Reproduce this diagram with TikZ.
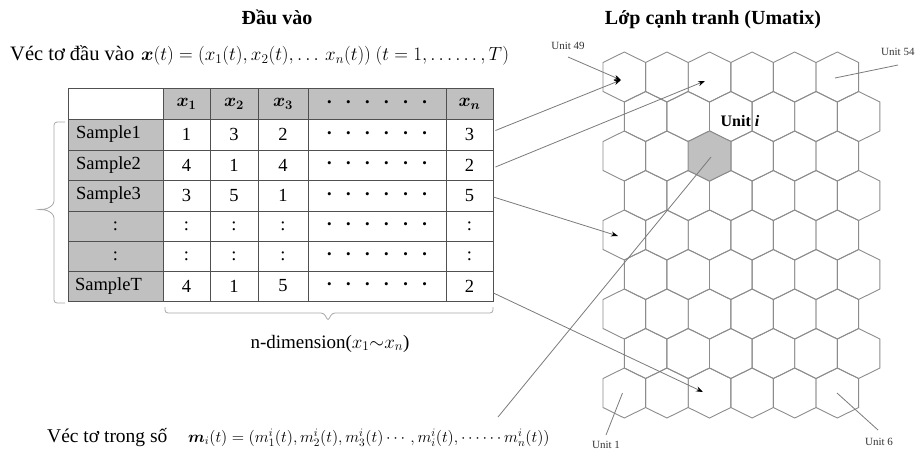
\RequirePackage{fix-cm}
\documentclass[tikz,border=0pt]{standalone}
\usepackage{amsmath}
\usepackage{bm}
\usepackage{fontspec}
\setmainfont{Liberation Serif}
\usetikzlibrary{arrows.meta,calc}
\definecolor{tbl}{HTML}{505050}
\definecolor{cellgray}{HTML}{C0C0C0}
\definecolor{hexc}{HTML}{8C8C8C}
\definecolor{connc}{HTML}{7A7A7A}
\definecolor{brc}{HTML}{A8A8A8}
\newcommand\myfs[1]{\fontsize{#1}{#1}\selectfont}
\newcommand\sixdots{{\myfs{13}\textbullet\hspace{14.5pt}\textbullet\hspace{14.5pt}\textbullet\hspace{14.5pt}\textbullet\hspace{14.5pt}\textbullet\hspace{14.5pt}\textbullet}}
\newcommand\hdrx[1]{$\bm{x}_{\bm{#1}}$}
\begin{document}
\begin{tikzpicture}[x=1pt,y=-1pt,
  cell/.style={draw=tbl, line width=0.9pt, inner sep=0pt, font=\myfs{18.5}},
  hexline/.style={draw=hexc, line width=0.9pt},
  conn/.style={draw=connc, line width=0.8pt},
  arr/.style={conn, -{Stealth[length=7pt,width=5pt,color=black]}},
  lbl/.style={font=\myfs{11}, text=black!80, inner sep=1pt},
  bracestyle/.style={draw=brc, line width=0.8pt, rounded corners=3pt},
  txt/.style={inner sep=0pt}
]
\useasboundingbox (0,0) rectangle (917,451);

% titles
\node[txt, anchor=base, font=\bfseries\myfs{20}] (title1) at (277,24) {Đầu vào};
\node[txt, anchor=base, font=\bfseries\myfs{20}] (title2) at (713,24) {Lớp cạnh tranh (Umatix)};

% input vector
\node[txt, anchor=base west, font=\myfs{20.5}] (vin) at (10,60.5) {Véc tơ đầu vào};
\node[txt, anchor=base west, font=\myfs{19}] (fx) at (141,60.5) {$\bm{x}(t) = (x_1(t), x_2(t), \ldots\, x_n(t))\ (t = 1, \ldots\ldots, T)$};

% table header
\node[cell, fill=white, minimum width=95, minimum height=31] (h0) at (115.5,103.5) {};
\node[cell, fill=cellgray, minimum width=47, minimum height=31] (h1) at (186.5,103.5) {\hdrx{1}};
\node[cell, fill=cellgray, minimum width=48, minimum height=31] (h2) at (234,103.5) {\hdrx{2}};
\node[cell, fill=cellgray, minimum width=50, minimum height=31] (h3) at (283,103.5) {\hdrx{3}};
\node[cell, fill=cellgray, minimum width=138, minimum height=31] (h4) at (377,103.5) {\sixdots};
\node[cell, fill=cellgray, minimum width=47, minimum height=31] (h5) at (469.5,103.5) {\hdrx{n}};

% table body
\foreach \ry/\rh/\sa/\so/\va/\vb/\vc/\vn [count=\j] in
  {134.5/31/Sample1/14/1/3/2/3, 165/30/Sample2/14/4/1/4/2, 195.5/31/Sample3/14/3/5/1/5,
   226/30/:/0/:/:/:/:, 256/30/:/0/:/:/:/:, 286/30/SampleT/14/4/1/5/2} {
  \node[cell, fill=cellgray, minimum width=95, minimum height=\rh] (s\j) at (115.5,\ry) {\sa\kern\so pt\relax};
  \node[cell, minimum width=47, minimum height=\rh] (a\j) at (186.5,\ry) {\va};
  \node[cell, minimum width=48, minimum height=\rh] (b\j) at (234,\ry) {\vb};
  \node[cell, minimum width=50, minimum height=\rh] (c\j) at (283,\ry) {\vc};
  \node[cell, minimum width=138, minimum height=\rh] (d\j) at (377,\ry) {\sixdots};
  \node[cell, minimum width=47, minimum height=\rh] (n\j) at (469.5,\ry) {\vn};
}

% braces
\draw[bracestyle] (65,122) -- (54,122) -- (54,204) -- (47,209) -- (37,209.5) -- (47,210) -- (54,215) -- (54,303) -- (65,303);
\draw[bracestyle] (165,307) -- (165,313) -- (324,313) -- (328,321) -- (332,313) -- (493,313) -- (493,307);
\node[txt, anchor=base, font=\myfs{19}] (ndim) at (330,348) {n-dimension($x_1{\sim}x_n$)};

% weight vector
\node[txt, anchor=base west, font=\myfs{19.5}] (vw) at (47,442) {Véc tơ trong số};
\node[txt, anchor=base west, font=\myfs{16.2}] (fm) at (188,442) {$\bm{m}_i(t) = (m_1^i(t), m_2^i(t), m_3^i(t)\cdots, m_i^i(t), \cdots\cdots m_n^i(t))$};

% hex grid
\foreach \r in {1,...,9} {
  \foreach \k in {0,...,5} {
    \pgfmathsetmacro\hx{624.3+42.6*\k+21.3*(1-mod(\r,2))}
    \pgfmathsetmacro\hy{393-39.5*(\r-1)}
    \draw[hexline] (\hx,\hy) ++(0,-25) -- ++(21.3,10.5) -- ++(0,29) -- ++(-21.3,10.5) -- ++(-21.3,-10.5) -- ++(0,-29) -- cycle;
  }
}
\filldraw[hexline, fill=cellgray] (709.5,156) ++(0,-25) -- ++(21.3,10.5) -- ++(0,29) -- ++(-21.3,10.5) -- ++(-21.3,-10.5) -- ++(0,-29) -- cycle;

% targets
\coordinate (t49) at (621,80);
\coordinate (t51) at (705,81);
\coordinate (t25) at (618,236);
\coordinate (t3) at (703,392);
\coordinate (ci) at (711,157);
\coordinate (ie) at (498,417);
\coordinate (t54) at (835,78);
\coordinate (t1) at (622.5,393);
\coordinate (t6) at (837,393);

% unit labels
\node[lbl] (u49) at (568,46) {Unit 49};
\node[lbl, anchor=west] (u54) at (880,52) {Unit 54};
\node[lbl] (u1) at (606,445) {Unit 1};
\node[lbl] (u6) at (879,442) {Unit 6};
\node[txt, font=\bfseries\myfs{16}] (ui) at (740,121) {Unit \textit{i}};

% connectors
\draw[arr] ([xshift=2pt,yshift=4pt]n1.east) -- (t49);
\draw[arr] ([xshift=2pt,yshift=-2pt]n2.east) -- (t51);
\draw[arr] ([xshift=0pt,yshift=-1.5pt]n3.east) -- (t25);
\draw[arr] ([xshift=0pt,yshift=-7pt]n6.east) -- (t3);
\draw[arr] ($(u49)+(0,11)$) -- (t49);
\draw[conn] ($(u54.west)+(18,13)$) -- (t54);
\draw[conn] ($(u1)+(0,-10)$) -- (t1);
\draw[conn] ($(u6)+(-1,-12)$) -- (t6);
\draw[conn] (ci) -- (ie);
\end{tikzpicture}
\end{document}
